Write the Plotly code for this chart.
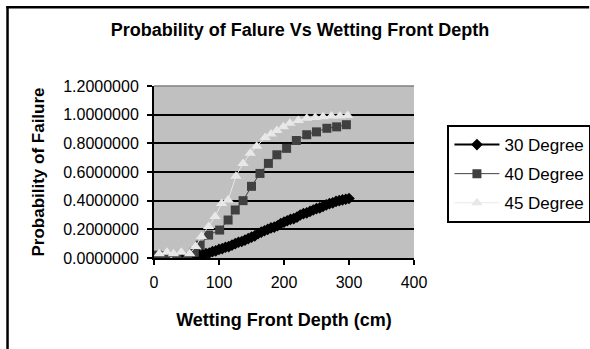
import plotly.graph_objects as go

# Wetting front depth (cm) and probability of failure for each slope angle
depth_30 = [40, 45, 50, 55, 60, 65, 70, 75, 80, 85, 90, 95, 100, 105, 110, 115, 120,
            125, 130, 135, 140, 145, 150, 155, 160, 165, 170, 175, 180, 185, 190,
            195, 200, 205, 210, 215, 220, 225, 230, 235, 240, 245, 250, 255, 260,
            265, 270, 275, 280, 285, 290, 295, 300]
prob_30 = [0.0, 0.0, 0.0, 0.005, 0.01, 0.015, 0.02, 0.025, 0.03, 0.035, 0.045, 0.05,
           0.06, 0.065, 0.075, 0.08, 0.09, 0.1, 0.11, 0.115, 0.125, 0.135, 0.145,
           0.155, 0.17, 0.18, 0.19, 0.2, 0.21, 0.215, 0.225, 0.24, 0.25, 0.26, 0.27,
           0.275, 0.285, 0.3, 0.31, 0.315, 0.325, 0.335, 0.345, 0.35, 0.36, 0.37,
           0.38, 0.385, 0.395, 0.4, 0.405, 0.41, 0.415]

depth_40 = [5, 18, 35, 52, 62, 71, 84, 101, 114, 125, 137, 150, 163, 176, 189,
            204, 219, 235, 250, 266, 281, 296]
prob_40 = [0.02, 0.015, 0.005, 0.0, 0.04, 0.09, 0.16, 0.195, 0.265, 0.335, 0.40,
           0.50, 0.59, 0.66, 0.72, 0.765, 0.82, 0.86, 0.88, 0.905, 0.915, 0.93]

depth_45 = [8, 20, 30, 42, 55, 64, 73, 84, 94, 104, 114, 126, 137, 148, 158, 171,
            180, 189, 199, 209, 222, 235, 248, 260, 273, 286, 298]
prob_45 = [0.03, 0.04, 0.03, 0.04, 0.03, 0.08, 0.15, 0.22, 0.29, 0.38, 0.405, 0.57,
           0.66, 0.73, 0.78, 0.84, 0.865, 0.89, 0.915, 0.94, 0.96, 0.975, 0.98,
           0.985, 0.99, 0.99, 0.995]

y_ticks = [0.0, 0.2, 0.4, 0.6, 0.8, 1.0, 1.2]
x_ticks = [0, 100, 200, 300, 400]

FONT = "Liberation Sans"
W, H = 590, 349
ML, MR, MT, MB = 154, 175.5, 86, 91
PW = W - ML - MR
PH = H - MT - MB


def px_x(p):
    return (p - ML) / PW


def px_y(p):
    return (H - MB - p) / PH


fig = go.Figure()

fig.add_trace(go.Scatter(
    x=depth_30, y=prob_30, name="30 Degree", mode="lines+markers",
    line=dict(color="#000000", width=2),
    marker=dict(symbol="diamond", size=9, color="#000000"),
    legendgroup="a",
))
fig.add_trace(go.Scatter(
    x=depth_40, y=prob_40, name="40 Degree", mode="lines+markers",
    line=dict(color="#404040", width=1),
    marker=dict(symbol="square", size=9, color="#404040"),
    legendgroup="b",
))
fig.add_trace(go.Scatter(
    x=depth_45, y=prob_45, name="45 Degree", mode="lines+markers",
    line=dict(color="#e8e8e8", width=1),
    marker=dict(symbol="triangle-up", size=10, color="#e8e8e8"),
    legendgroup="c",
))

# chart frame along the top and left edges, drawn as thin filled bands
band = dict(xref="paper", yref="paper", type="rect", fillcolor="#000000",
            line=dict(width=0), layer="above")
shapes = [
    dict(band, x0=px_x(6), x1=px_x(8.5), y0=px_y(H), y1=px_y(6)),
    dict(band, x0=px_x(6), x1=px_x(W), y0=px_y(8.5), y1=px_y(6)),
    dict(type="line", xref="paper", yref="paper", x0=0, x1=1, y0=1, y1=1,
         line=dict(color="#808080", width=1.5), layer="above"),
]

fig.update_layout(
    width=W, height=H,
    margin=dict(l=ML, r=MR, t=MT, b=MB, autoexpand=False),
    paper_bgcolor="#ffffff",
    plot_bgcolor="#c0c0c0",
    font=dict(family=FONT, color="#000000", size=15),
    title=dict(text="<b>Probability of Falure Vs Wetting Front Depth</b>",
               x=300 / W, xanchor="center", y=1 - 30 / H, yanchor="middle",
               font=dict(size=18, family=FONT)),
    xaxis=dict(range=[0, 400], tickvals=x_ticks, ticktext=[str(v) for v in x_ticks],
               showgrid=False, zeroline=False, showline=True, linecolor="#000000",
               linewidth=2, ticks="outside", ticklen=5, tickwidth=2, tickcolor="#000000",
               tickfont=dict(size=16), ticklabelstandoff=4,
               title=dict(text="<b>Wetting Front Depth (cm)</b>", standoff=23,
                          font=dict(size=18))),
    yaxis=dict(range=[0, 1.2], tickvals=y_ticks, ticktext=[f"{v:.7f}" for v in y_ticks],
               showgrid=True, gridcolor="#000000", gridwidth=2, zeroline=False,
               showline=True, linecolor="#000000", linewidth=2,
               ticks="outside", ticklen=5, tickwidth=2, tickcolor="#000000",
               tickfont=dict(size=16), ticklabelstandoff=5,
               title=dict(text="<b>Probability of Failure</b>", standoff=14,
                          font=dict(size=17))),
    legend=dict(x=px_x(448), y=px_y(125), xanchor="left", yanchor="top",
                bordercolor="#000000", borderwidth=2, bgcolor="#ffffff",
                font=dict(size=17, family=FONT), itemwidth=45,
                traceorder="grouped", tracegroupgap=4),
    shapes=shapes,
)

fig.write_html("out.html")
